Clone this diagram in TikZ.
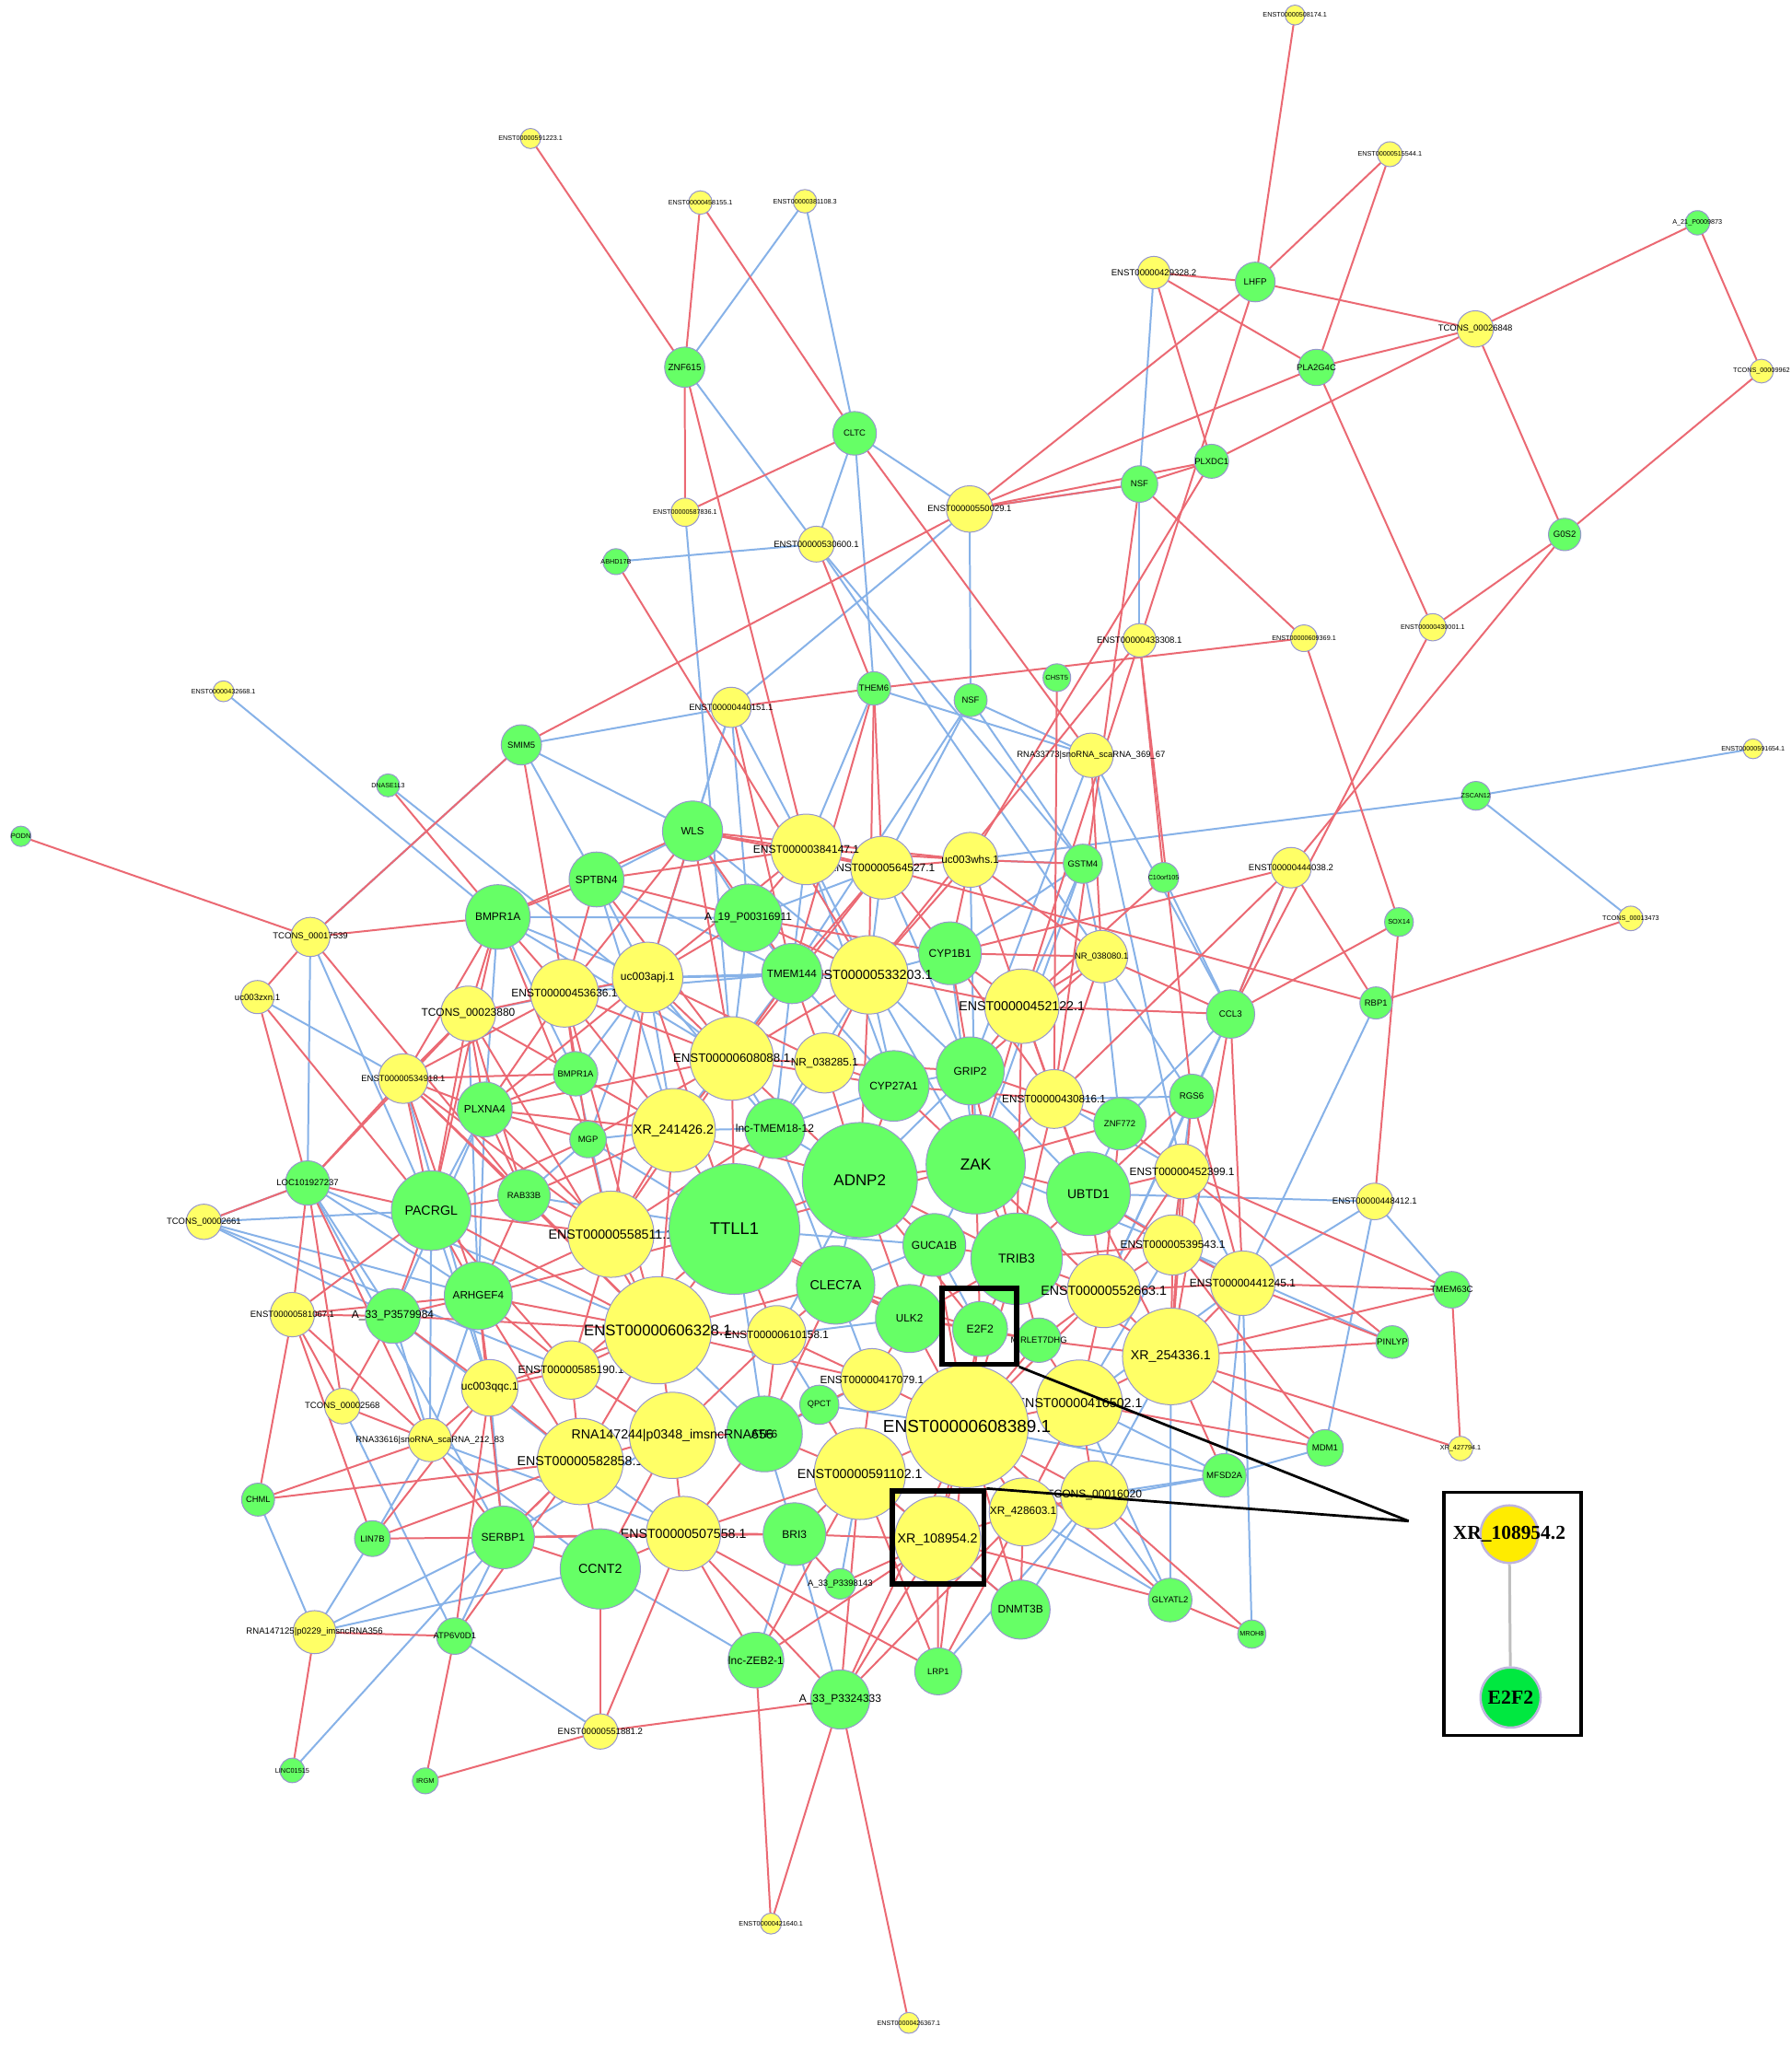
\documentclass[tikz,border=0pt]{standalone}
\usepackage{fontspec}
\setmainfont{Liberation Sans}
\newfontfamily\tnr{Liberation Serif}
\usetikzlibrary{backgrounds}
\definecolor{yf}{RGB}{255,255,102}
\definecolor{gf}{RGB}{102,255,102}
\definecolor{ndb}{RGB}{150,150,205}
\definecolor{redc}{RGB}{235,105,115}
\definecolor{bluec}{RGB}{135,178,232}
\definecolor{yins}{RGB}{255,236,0}
\definecolor{gins}{RGB}{0,232,64}
\definecolor{insb}{RGB}{190,180,222}
\begin{document}
\begin{tikzpicture}[x=0.02cm,y=-0.02cm,
  nd/.style={circle,draw=ndb,line width=0.4pt,inner sep=0pt,outer sep=0pt},
  Y/.style={nd,fill=yf,minimum size=#1*0.04cm},
  G/.style={nd,fill=gf,minimum size=#1*0.04cm},
  lab/.style 2 args={label={[inner sep=0pt,font=\fontsize{#1}{#1}\selectfont]center:#2}},
  re/.style={draw=redc,line width=0.8pt},
  be/.style={draw=bluec,line width=0.8pt},
  hbox/.style={draw=black,line width=2.2pt,inner sep=0pt,fill=none},
]
\useasboundingbox (0,0) rectangle (1371,1568);
% ---------------- nodes ----------------
\node[Y=7.6,lab={2.9}{ENST00000508174.1}] (e508174) at (991,11.5) {};
\node[Y=7.7,lab={2.9}{ENST00000591223.1}] (e591223) at (406,106) {};
\node[Y=9.5,lab={2.9}{ENST00000515544.1}] (e515544) at (1063.6,118) {};
\node[Y=9,lab={2.9}{ENST00000458155.1}] (e458155) at (536,155) {};
\node[Y=9,lab={2.9}{ENST00000381108.3}] (e381108) at (616,154) {};
\node[G=9.3,lab={2.9}{A\_21\_P0009873}] (a21) at (1299,170.5) {};
\node[Y=12.4,lab={3.85}{ENST00000429328.2}] (e429328) at (883,208.6) {};
\node[G=15.2,lab={3.9}{LHFP}] (lhfp) at (960.6,215.8) {};
\node[Y=13.9,lab={3.8}{TCONS\_00026848}] (tc26848) at (1129,251.7) {};
\node[G=13.9,lab={3.8}{PLA2G4C}] (pla2g4c) at (1007.4,281.2) {};
\node[Y=9.1,lab={2.9}{TCONS\_00009962}] (tc9962) at (1348,284) {};
\node[G=15.4,lab={4.0}{ZNF615}] (znf615) at (524,281) {};
\node[G=16.7,lab={3.8}{CLTC}] (cltc) at (654,331.6) {};
\node[Y=10.8,lab={2.9}{ENST00000587836.1}] (e587836) at (524.3,392) {};
\node[Y=17.8,lab={3.8}{ENST00000550029.1}] (e550029) at (742,389.5) {};
\node[G=14,lab={3.8}{NSF}] (nsf1) at (872,370.4) {};
\node[G=13,lab={3.8}{PLXDC1}] (plxdc1) at (927.2,353) {};
\node[Y=13.7,lab={3.85}{ENST00000530600.1}] (e530600) at (624.7,416.4) {};
\node[G=9.9,lab={2.9}{ABHD17B}] (abhd17b) at (471.4,429.8) {};
\node[G=12.4,lab={3.85}{G0S2}] (g0s2) at (1197.4,409) {};
\node[Y=10.4,lab={2.9}{ENST00000430001.1}] (e430001) at (1096.4,480) {};
\node[Y=12.8,lab={3.85}{ENST00000433308.1}] (e433308) at (872,490) {};
\node[Y=10.2,lab={2.9}{ENST00000609369.1}] (e609369) at (997.9,488.4) {};
\node[G=10.6,lab={3.0}{CHST5}] (chst5) at (808.8,518.6) {};
\node[G=12.6,lab={3.8}{NSF}] (nsf2) at (742.8,535.8) {};
\node[G=12.8,lab={3.8}{THEM6}] (them6) at (668.8,526.8) {};
\node[Y=15.4,lab={3.8}{ENST00000440151.1}] (e440151) at (559.5,541.3) {};
\node[Y=8,lab={2.9}{ENST00000432668.1}] (e432668) at (171,529) {};
\node[G=15.4,lab={3.8}{SMIM5}] (smim5) at (399,570) {};
\node[G=8.8,lab={2.85}{DNASE1L3}] (dnase) at (297,601) {};
\node[Y=17,lab={3.8}{RNA33773|snoRNA\_scaRNA\_369\_67}] (rna33773) at (835,578) {};
\node[Y=7.6,lab={2.87}{ENST00000591654.1}] (e591654) at (1341.6,573) {};
\node[G=11,lab={2.86}{ZSCAN12}] (zscan12) at (1129.5,609) {};
\node[G=7.8,lab={3.0}{PODN}] (podn) at (16,640) {};
\node[G=23,lab={4.6}{WLS}] (wls) at (530,636) {};
\node[Y=24,lab={4.8}{ENST00000564527.1}] (e564527) at (675,664) {};
\node[Y=27,lab={4.8}{ENST00000384147.1}] (e384147) at (617,650) {};
\node[Y=21,lab={4.7}{uc003whs.1}] (whs) at (742.5,658) {};
\node[G=15,lab={3.8}{GSTM4}] (gstm4) at (828.7,661) {};
\node[G=11.5,lab={2.9}{C10orf105}] (c10) at (890.5,671.5) {};
\node[Y=15.5,lab={3.84}{ENST00000444038.2}] (e444038) at (988,664) {};
\node[G=21,lab={4.7}{SPTBN4}] (sptbn4) at (456.5,673) {};
\node[G=24.7,lab={4.8}{BMPR1A}] (bmpr1a) at (381,701.7) {};
\node[G=26,lab={4.8}{A\_19\_P00316911}] (a19) at (572.6,702.5) {};
\node[G=11,lab={2.97}{SOX14}] (sox14) at (1070.6,705.6) {};
\node[Y=9.4,lab={2.9}{TCONS\_00013473}] (tc13473) at (1248,702.8) {};
\node[Y=15,lab={3.84}{TCONS\_00017539}] (tc17539) at (237.5,717) {};
\node[G=24,lab={4.8}{CYP1B1}] (cyp1b1) at (727,729.5) {};
\node[Y=20,lab={3.8}{NR\_038080.1}] (nr38080) at (843,732) {};
\node[Y=27,lab={4.8}{uc003apj.1}] (apj) at (495.6,748) {};
\node[Y=30,lab={5.75}{ENST00000533203.1}] (e533203) at (665,746) {};
\node[G=23,lab={4.7}{TMEM144}] (tmem144) at (606,745) {};
\node[Y=26,lab={4.8}{ENST00000453636.1}] (e453636) at (432,760) {};
\node[Y=28.5,lab={5.7}{ENST00000452122.1}] (e452122) at (782,770) {};
\node[Y=12.7,lab={3.86}{uc003zxn.1}] (zxn) at (197,763) {};
\node[Y=21,lab={4.8}{TCONS\_00023880}] (tc23880) at (358.3,775.6) {};
\node[G=18.5,lab={3.9}{CCL3}] (ccl3) at (941.7,776) {};
\node[G=12.3,lab={3.8}{RBP1}] (rbp1) at (1053,767.5) {};
\node[Y=32,lab={5.3}{ENST00000608088.1}] (e608088) at (560,810) {};
\node[Y=23,lab={4.75}{NR\_038285.1}] (nr38285) at (631,813.4) {};
\node[G=26,lab={4.8}{GRIP2}] (grip2) at (742.5,819.5) {};
\node[G=17,lab={3.8}{BMPR1A}] (bmprs) at (440.5,821.7) {};
\node[Y=19,lab={3.8}{ENST00000534918.1}] (e534918) at (308.6,825.4) {};
\node[G=27,lab={4.8}{CYP27A1}] (cyp27) at (684,831) {};
\node[Y=22.5,lab={4.7}{ENST00000430816.1}] (e430816) at (806.6,841) {};
\node[G=17,lab={3.9}{RGS6}] (rgs6) at (912,839) {};
\node[G=21,lab={4.7}{PLXNA4}] (plxna4) at (371,849) {};
\node[G=20,lab={3.8}{ZNF772}] (znf772) at (857,860) {};
\node[Y=32,lab={5.7}{XR\_241426.2}] (xr241) at (515.5,865) {};
\node[G=23,lab={4.8}{lnc-TMEM18-12}] (tmem18) at (593,863.5) {};
\node[G=14,lab={3.8}{MGP}] (mgp) at (450,872) {};
\node[G=44,lab={6.8}{ADNP2}] (adnp2) at (658,903) {};
\node[G=38,lab={6.9}{ZAK}] (zak) at (746.7,891) {};
\node[G=32,lab={5.6}{UBTD1}] (ubtd1) at (833,913.5) {};
\node[Y=21,lab={4.75}{ENST00000452399.1}] (e452399) at (904.6,896.4) {};
\node[G=17,lab={3.83}{LOC101927237}] (loc) at (235.4,905.3) {};
\node[Y=14,lab={3.83}{ENST00000448412.1}] (e448412) at (1052,919.4) {};
\node[G=30.5,lab={5.7}{PACRGL}] (pacrgl) at (330,926.4) {};
\node[G=20,lab={3.8}{RAB33B}] (rab33b) at (401,915) {};
\node[Y=33,lab={5.7}{ENST00000558511.1}] (e558511) at (467.5,944.5) {};
\node[G=50,lab={7.4}{TTLL1}] (ttll1) at (562,940.5) {};
\node[Y=13.5,lab={3.8}{TCONS\_00002661}] (tc2661) at (156,935) {};
\node[G=24,lab={4.8}{GUCA1B}] (guca) at (715,952.7) {};
\node[G=35,lab={5.6}{TRIB3}] (trib3) at (778,963.3) {};
\node[Y=23,lab={4.75}{ENST00000539543.1}] (e539543) at (897.5,952.7) {};
\node[G=30,lab={5.75}{CLEC7A}] (clec) at (639.5,983.3) {};
\node[Y=28,lab={5.7}{ENST00000552663.1}] (e552663) at (844.7,988) {};
\node[Y=24.7,lab={4.8}{ENST00000441245.1}] (e441245) at (951,982) {};
\node[G=14,lab={3.9}{TMEM63C}] (tmem63c) at (1111,987) {};
\node[G=26,lab={4.7}{ARHGEF4}] (arhgef4) at (366,991.5) {};
\node[Y=17,lab={3.8}{ENST00000581067.1}] (e581067) at (223.7,1006) {};
\node[G=21,lab={4.8}{A\_33\_P3579984}] (a33a) at (300.6,1007) {};
\node[Y=22.3,lab={4.8}{ENST00000585190.1}] (e585190) at (437,1048.4) {};
\node[Y=41,lab={6.7}{ENST00000606328.1}] (e606328) at (503.5,1018) {};
\node[G=26,lab={4.7}{ULK2}] (ulk2) at (696,1009) {};
\node[G=21,lab={4.9}{E2F2}] (e2f2) at (750,1017) {};
\node[G=17,lab={3.8}{MIRLET7DHG}] (mirlet) at (795,1025.6) {};
\node[Y=22.5,lab={4.7}{ENST00000610158.1}] (e610158) at (594.4,1021.6) {};
\node[Y=37,lab={5.7}{XR\_254336.1}] (xr254) at (896,1038) {};
\node[G=12.5,lab={3.86}{PINLYP}] (pinlyp) at (1065.5,1027) {};
\node[Y=21.6,lab={4.8}{uc003qqc.1}] (qqc) at (374.8,1062) {};
\node[Y=13.6,lab={3.84}{TCONS\_00002568}] (tc2568) at (262,1076) {};
\node[Y=24,lab={4.7}{ENST00000417079.1}] (e417079) at (667.3,1056) {};
\node[G=15,lab={3.7}{QPCT}] (qpct) at (627,1075) {};
\node[Y=33,lab={5.7}{ENST00000416502.1}] (e416502) at (826,1073.7) {};
\node[Y=47,lab={7.6}{ENST00000608389.1}] (e608389) at (740,1091.4) {};
\node[G=29,lab={4.8}{ATF6}] (atf6) at (585,1097.3) {};
\node[Y=33,lab={5.7}{ENST00000582858.1}] (e582858) at (444,1118.4) {};
\node[Y=33,lab={5.7}{RNA147244|p0348\_imsncRNA656}] (rna147244) at (514.6,1098.4) {};
\node[Y=16.5,lab={3.8}{RNA33616|snoRNA\_scaRNA\_212\_83}] (rna33616) at (329,1102) {};
\node[G=14,lab={3.85}{MDM1}] (mdm1) at (1014,1108) {};
\node[Y=9.3,lab={2.9}{XR\_427794.1}] (xr427) at (1117.7,1108.5) {};
\node[Y=35,lab={5.7}{ENST00000591102.1}] (e591102) at (658,1127.8) {};
\node[Y=26,lab={4.85}{TCONS\_00016020}] (tc16020) at (837.6,1144) {};
\node[G=16.7,lab={3.85}{MFSD2A}] (mfsd2a) at (937,1129) {};
\node[G=12.6,lab={3.75}{CHML}] (chml) at (197.5,1147.6) {};
\node[Y=33,lab={5.7}{XR\_108954.2}] (xr108) at (717.5,1178) {};
\node[Y=26,lab={4.75}{XR\_428603.1}] (xr428) at (783,1157) {};
\node[G=24,lab={4.8}{SERBP1}] (serbp1) at (385,1176.5) {};
\node[Y=28.5,lab={5.7}{ENST00000507558.1}] (e507558) at (523,1173.6) {};
\node[G=24,lab={4.8}{BRI3}] (bri3) at (608,1174) {};
\node[G=13.7,lab={3.8}{LIN7B}] (lin7b) at (285,1177.4) {};
\node[G=30.7,lab={5.7}{CCNT2}] (ccnt2) at (459.4,1200.6) {};
\node[G=11.7,lab={3.8}{A\_33\_P3398143}] (a33b) at (643,1212) {};
\node[G=22.6,lab={4.8}{DNMT3B}] (dnmt3b) at (781,1231.7) {};
\node[G=16.7,lab={3.8}{GLYATL2}] (glyatl2) at (895.5,1224.4) {};
\node[G=10.8,lab={2.9}{MROH8}] (mroh8) at (958,1250.5) {};
\node[Y=16.5,lab={3.85}{RNA147125|p0229\_imsncRNA356}] (rna147125) at (240.7,1249) {};
\node[G=14,lab={3.77}{ATP6V0D1}] (atp6) at (348,1252) {};
\node[G=21.3,lab={4.8}{lnc-ZEB2-1}] (zeb2) at (578.5,1270.4) {};
\node[G=18,lab={3.75}{LRP1}] (lrp1) at (718,1279) {};
\node[G=22.6,lab={4.8}{A\_33\_P3324333}] (a33c) at (643,1300.5) {};
\node[Y=13.5,lab={3.85}{ENST00000551881.2}] (e551881) at (459.4,1325) {};
\node[G=9.4,lab={2.95}{LINC01515}] (linc) at (223.7,1354.8) {};
\node[G=9.9,lab={3.0}{IRGM}] (irgm) at (325.5,1362.8) {};
\node[Y=8,lab={2.9}{ENST00000421640.1}] (e421640) at (590,1472) {};
\node[Y=8,lab={2.86}{ENST00000426367.1}] (e426367) at (695.5,1548) {};
% ---------------- edges ----------------
\begin{scope}[on background layer]
\fill[white] (0,0) rectangle (1371,1568);
\foreach \a/\b in {e381108/znf615, e381108/cltc, znf615/e530600, cltc/e530600, cltc/them6, cltc/e550029, e587836/e608088, abhd17b/e530600, e530600/gstm4, e530600/nr38080, e550029/e440151, e550029/nsf2, e429328/nsf1, nsf1/e433308, nsf1/e550029, zscan12/e591654, zscan12/tc13473, zscan12/whs, rbp1/e441245, e448412/e441245, e448412/tmem63c, e448412/mdm1, e448412/ubtd1, e444038/ccl3, rna33773/ccl3, rna33773/e452399, rna33773/grip2, pinlyp/e539543, mfsd2a/mdm1, e441245/mroh8, e441245/mfsd2a, glyatl2/tc16020, glyatl2/xr428, glyatl2/e416502, glyatl2/xr254, dnmt3b/tc16020, dnmt3b/e591102, lrp1/tc16020, a33c/bri3, zeb2/ccnt2, zeb2/bri3, e551881/atp6, atp6/serbp1, tc2568/atp6, linc/serbp1, rna147125/chml, rna147125/lin7b, rna147125/serbp1, rna147125/ccnt2, lin7b/rna33616, rna33616/a33a, rna33616/arhgef4, rna33616/ccnt2, rna33616/e507558, qqc/serbp1, e432668/bmpr1a, smim5/tc17539, smim5/sptbn4, smim5/wls, smim5/e440151, dnase/e608088, tc17539/loc, tc17539/pacrgl, zxn/e534918, bmpr1a/plxna4, bmpr1a/apj, bmpr1a/a19, bmpr1a/bmprs, bmpr1a/e608088, tc23880/apj, loc/tc2661, loc/a33a, loc/arhgef4, tc2661/pacrgl, tc2661/a33a, tc2661/arhgef4, tc2661/e585190, a33a/e582858, a33a/plxna4, pacrgl/plxna4, pacrgl/qqc, pacrgl/rna33616, plxna4/arhgef4, rab33b/mgp, rab33b/ttll1, mgp/xr241, mgp/apj, mgp/ttll1, bmprs/apj, bmprs/e558511, e453636/tmem144, sptbn4/wls, sptbn4/apj, sptbn4/xr241, sptbn4/tmem144, wls/a19, wls/e533203, a19/tmem144, a19/e608088, a19/e564527, e384147/tmem144, e384147/e533203, e384147/cyp27, e564527/e533203, e564527/grip2, whs/gstm4, whs/zak, gstm4/nr38080, gstm4/e452122, gstm4/cyp1b1, gstm4/zak, c10/ccl3, cyp1b1/e533203, cyp1b1/zak, nr38080/znf772, nr38080/rgs6, ccl3/rgs6, ccl3/znf772, ccl3/e552663, rgs6/e430816, rgs6/e539543, rgs6/e552663, znf772/ubtd1, tmem144/apj, tmem144/cyp27, tmem144/xr241, tmem144/tmem18, apj/xr241, apj/e533203, apj/tmem18, e533203/cyp27, e533203/grip2, e533203/zak, e533203/tmem18, e608088/tmem18, nr38285/tmem18, cyp27/grip2, cyp27/tmem18, grip2/ubtd1, grip2/adnp2, e430816/e452399, xr241/tmem18, tmem18/adnp2, tmem18/clec, ttll1/e558511, ttll1/guca, ttll1/atf6, adnp2/clec, adnp2/e610158, zak/guca, zak/e539543, ubtd1/e441245, e452399/e441245, guca/clec, guca/e2f2, e539543/e416502, e441245/e416502, clec/e417079, ulk2/e610158, xr254/tc16020, e606328/atf6, e610158/qpct, e417079/atf6, qpct/e608389, e416502/mfsd2a, rna147244/serbp1, e582858/e507558, atf6/bri3, e591102/a33b, tc16020/mfsd2a, mfsd2a/e608389, mfsd2a/xr428, nsf2/rna33773, nsf2/gstm4, nsf2/tmem144, nsf2/e564527, them6/e384147, them6/rna33773, e440151/wls, e440151/a19, e440151/e384147, e440151/apj, loc/e606328, e534918/qqc, tc23880/arhgef4, loc/serbp1}
  \draw[be] (\a) -- (\b);
\foreach \a/\b in {e591223/znf615, e458155/znf615, e458155/cltc, znf615/e587836, znf615/e384147, cltc/e587836, cltc/rna33773, e530600/them6, abhd17b/e533203, smim5/e550029, e508174/lhfp, e515544/lhfp, e515544/pla2g4c, a21/tc26848, a21/tc9962, e429328/lhfp, e429328/pla2g4c, e429328/plxdc1, lhfp/tc26848, lhfp/e550029, lhfp/e452122, pla2g4c/tc26848, pla2g4c/e550029, pla2g4c/e430001, tc26848/plxdc1, tc26848/g0s2, tc9962/g0s2, plxdc1/nsf1, plxdc1/whs, plxdc1/e550029, nsf1/e550029, nsf1/e609369, nsf1/e430816, e440151/them6, them6/e609369, e609369/sox14, e430001/g0s2, e430001/ccl3, g0s2/e444038, tc13473/rbp1, sox14/ccl3, sox14/e448412, rbp1/e444038, rbp1/e564527, tmem63c/xr427, podn/tc17539, tc17539/bmpr1a, tc17539/zxn, tc17539/smim5, dnase/bmpr1a, e433308/e533203, e433308/rgs6, e433308/c10, chst5/e430816, rna33773/nr38080, e444038/cyp1b1, e444038/e430816, e444038/ccl3}
  \draw[re] (\a) -- (\b);
\foreach \a/\b in {tmem63c/e441245, tmem63c/e452399, tmem63c/xr254, pinlyp/e452399, pinlyp/e441245, pinlyp/xr254, mdm1/xr254, mdm1/e539543, mdm1/e416502, xr427/xr254, glyatl2/mroh8, tc16020/mroh8, glyatl2/e608389, glyatl2/xr108, dnmt3b/xr428, dnmt3b/e608389, dnmt3b/xr108, lrp1/xr108, lrp1/e591102, lrp1/e608389, lrp1/xr428, lrp1/e507558, a33c/e421640, a33c/e426367, a33c/e551881, a33c/xr108, a33c/e591102, a33c/e608389, a33c/e507558, a33c/xr428, zeb2/e421640, zeb2/e507558, zeb2/xr108, zeb2/e591102, e551881/ccnt2, e551881/irgm, e551881/e507558, atp6/irgm, atp6/rna147125, atp6/e582858, atp6/qqc, linc/rna147125, chml/e581067, chml/rna33616, chml/e582858, lin7b/serbp1, lin7b/e581067, lin7b/qqc, lin7b/e582858, tc2568/a33a, tc2568/rna33616, tc2568/loc, rna33616/qqc, rna33616/serbp1, serbp1/ccnt2, serbp1/e582858, serbp1/e507558, serbp1/bri3}
  \draw[re] (\a) -- (\b);
\foreach \a/\b in {bmpr1a/sptbn4, bmpr1a/tc23880, bmpr1a/e453636, bmpr1a/e534918, bmpr1a/pacrgl, bmpr1a/mgp, bmpr1a/wls, smim5/e453636, tc17539/rab33b, zxn/loc, zxn/pacrgl, e534918/tc23880, e534918/plxna4, e534918/pacrgl, e534918/bmprs, e534918/loc, e534918/arhgef4, e534918/e453636, e534918/e606328, e534918/rab33b, e534918/e558511, tc23880/plxna4, tc23880/pacrgl, tc23880/e453636, tc23880/e606328, tc23880/rab33b, tc23880/loc, tc23880/bmprs, loc/tc2661, loc/pacrgl, loc/e581067, loc/rna33616, e581067/a33a, e581067/pacrgl, e581067/rna33616, e581067/tc2568, e581067/arhgef4, a33a/pacrgl, a33a/arhgef4, a33a/e606328, a33a/qqc, pacrgl/arhgef4, pacrgl/rab33b, pacrgl/mgp, pacrgl/e558511, pacrgl/e606328, pacrgl/e585190, plxna4/mgp, plxna4/e453636, plxna4/bmprs, plxna4/rab33b, plxna4/xr241, plxna4/e608088, plxna4/e558511, plxna4/apj, rab33b/arhgef4, rab33b/e558511, rab33b/e606328, rab33b/xr241, arhgef4/e558511, arhgef4/e606328, arhgef4/e585190, arhgef4/qqc, arhgef4/serbp1, arhgef4/e582858, arhgef4/ttll1, mgp/e558511, mgp/e453636, mgp/e608088, bmprs/e453636, bmprs/xr241, e453636/apj, e453636/sptbn4, e453636/wls, e453636/e608088, e453636/xr241, e453636/e606328}
  \draw[re] (\a) -- (\b);
\foreach \a/\b in {sptbn4/a19, sptbn4/e384147, sptbn4/e608088, wls/e384147, wls/e564527, wls/apj, wls/tmem144, wls/e608088, wls/whs, a19/apj, a19/e384147, a19/e533203, a19/cyp1b1, e384147/e564527, e384147/apj, e384147/whs, e564527/whs, e564527/cyp1b1, e564527/tmem144, e564527/e608088, whs/gstm4, whs/cyp1b1, whs/e452122, whs/e533203, whs/nr38080, c10/e452122, cyp1b1/nr38080, cyp1b1/e452122, cyp1b1/grip2, cyp1b1/e430816, nr38080/e452122, nr38080/ccl3, nr38080/e430816, nr38080/grip2, e452122/ccl3, e452122/grip2, e452122/e430816, e452122/zak, e452122/ubtd1, e452122/e533203, e452122/trib3, ccl3/e441245, ccl3/xr254, rgs6/e441245, rgs6/xr254, rgs6/ubtd1, znf772/e430816, znf772/zak, znf772/e552663, znf772/e452399, tmem144/e533203, tmem144/e608088, tmem144/nr38285, apj/e608088, apj/nr38285, apj/ttll1, apj/e558511, e533203/nr38285, e533203/e608088, e533203/adnp2, e608088/nr38285, e608088/xr241, e608088/ttll1, e608088/adnp2, e608088/cyp27, e608088/e558511, nr38285/cyp27, nr38285/adnp2, nr38285/grip2, cyp27/adnp2, cyp27/zak, cyp27/e430816, grip2/zak, grip2/e430816, grip2/trib3, e430816/zak, e430816/ubtd1, e430816/trib3, e440151/tmem144, them6/e533203, them6/tmem144, them6/e564527}
  \draw[re] (\a) -- (\b);
\foreach \a/\b in {xr241/ttll1, xr241/e558511, xr241/adnp2, xr241/e606328, tmem18/ttll1, tmem18/e558511, ttll1/adnp2, ttll1/e606328, ttll1/clec, ttll1/e610158, ttll1/e585190, ttll1/ulk2, ttll1/zak, adnp2/zak, adnp2/guca, adnp2/ulk2, adnp2/trib3, adnp2/e2f2, zak/ubtd1, zak/trib3, zak/e2f2, zak/e552663, ubtd1/e452399, ubtd1/trib3, ubtd1/e539543, ubtd1/e552663, ubtd1/xr254, e452399/e539543, e452399/xr254, e452399/e552663, guca/trib3, guca/ulk2, guca/e608389, trib3/e552663, trib3/e2f2, trib3/mirlet, trib3/e539543, trib3/ulk2, trib3/e608389, trib3/xr254, e539543/e552663, e539543/e441245, e539543/xr254, e552663/e441245, e552663/xr254, e552663/mirlet, e552663/e416502, e552663/e608389, e441245/xr254, clec/ulk2, clec/e610158, clec/e606328, clec/atf6, clec/e2f2, ulk2/e2f2, ulk2/e417079, ulk2/e608389, ulk2/mirlet, e2f2/mirlet, e2f2/e608389, e2f2/xr108, mirlet/xr254, mirlet/e416502, mirlet/e608389, xr254/e416502, xr254/mfsd2a, e606328/e558511, e606328/e585190, e606328/e610158, e606328/rna147244, e606328/e582858, e606328/qqc, e606328/e417079, e610158/e417079, e610158/atf6, e610158/rna147244, e585190/qqc, e585190/e582858, e585190/rna147244, e585190/e558511, qqc/e582858, e417079/qpct, e417079/e608389, e417079/e591102, qpct/atf6, qpct/e591102, e608389/e416502, e608389/e591102, e608389/xr108, e608389/xr428, e608389/tc16020, e416502/tc16020, e416502/xr428, rna147244/e582858, rna147244/atf6, rna147244/e507558, rna147244/ccnt2, e582858/serbp1, e582858/ccnt2, atf6/e591102, atf6/e507558, e591102/xr108, e591102/bri3, e591102/e507558, tc16020/xr428, xr108/xr428, xr108/bri3, xr108/a33b, e507558/ccnt2, e507558/bri3, bri3/a33b}
  \draw[re] (\a) -- (\b);
\end{scope}
% ---------------- highlight boxes and inset ----------------
\node[hbox,minimum width=57*0.02cm,minimum height=58*0.02cm] (boxE) at (749.5,1015) {};
\node[hbox,minimum width=70*0.02cm,minimum height=71*0.02cm] (boxX) at (718,1176.5) {};
\coordinate (apex) at (1078,1164);
\draw[line width=1.1pt] (boxE.south east) -- (apex);
\draw[line width=1.1pt] (boxX.north east) -- (apex);
\node[draw=black,line width=1.4pt,minimum width=105*0.02cm,minimum height=186*0.02cm,inner sep=0pt] (inset) at (1157.5,1235) {};
\node[circle,fill=yins,draw=insb,line width=1pt,minimum size=44*0.02cm,inner sep=0pt] (insX) at (1155,1174) {};
\node[circle,fill=gins,draw=insb,line width=1pt,minimum size=46*0.02cm,inner sep=0pt] (insE) at (1156,1299) {};
\begin{scope}[on background layer]
\draw[draw=black!25,line width=1.2pt] (insX) -- (insE);
\end{scope}
\node[font=\tnr\bfseries\fontsize{8.6}{8.6}\selectfont,inner sep=0pt] (insXl) at (insX) {XR\_108954.2};
\node[font=\tnr\bfseries\fontsize{8.7}{8.7}\selectfont,inner sep=0pt] (insEl) at (insE) {E2F2};
\end{tikzpicture}
\end{document}
